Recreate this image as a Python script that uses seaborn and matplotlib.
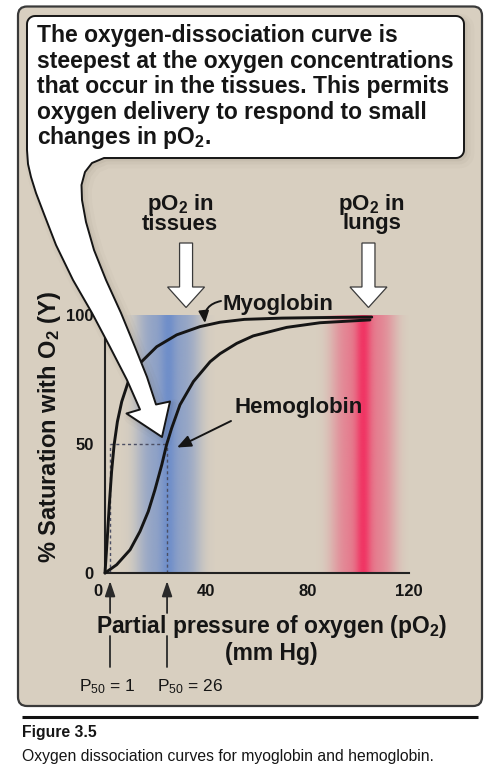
import numpy as np
import pandas as pd
import matplotlib
matplotlib.use("Agg")
import matplotlib.pyplot as plt
import seaborn as sns
from matplotlib.patches import FancyBboxPatch, Polygon

# ---------------- data ----------------
myo_po2 = [0, 0.9, 1.7, 2.6, 3.6, 4.9, 6.6, 9.2, 13.8, 20.4, 28.3, 37.5, 45.4, 55, 70, 85, 105.3]
myo_sat = [0, 13.5, 26.4, 39.3, 49.7, 58.7, 66.4, 74.2, 81.3, 87.7, 92.3, 95.5, 97.2, 98.3, 98.8, 99.0, 99.2]

hb_po2 = [0, 4.6, 9.9, 13.8, 17.1, 19.7, 22.4, 24.3, 26.3, 29.6, 34.9, 41.5, 45.4, 52, 58.5, 71.7, 84.9, 104.6]
hb_sat = [0, 3.2, 9.0, 16.1, 23.9, 32.2, 41.9, 49.7, 56.1, 65.2, 74.2, 81.9, 85.0, 89.0, 91.9, 95.2, 97.0, 98.1]

p50_marks = [2, 24.5]                 # where the P50 guides are drawn
p50_level = 50
p50_labels = ["P$_{50}$ = 1", "P$_{50}$ = 26"]

tissue_band = (25, 16)                # centre, half-width (pO2)
lung_band = (102, 16)
region_arrow_po2 = [32, 104]
region_labels = ["pO$_\\mathbf{2}$ in\ntissues", "pO$_\\mathbf{2}$ in\nlungs"]

x_ticks = list(range(0, 121, 10))
x_ticklabels = ["" if t not in (40, 80, 120) else str(t) for t in x_ticks]
y_ticks = list(range(0, 101, 10))
y_ticklabels = [str(t) if t in (0, 50, 100) else "" for t in y_ticks]

callout_lines = [
    "The oxygen-dissociation curve is",
    "steepest at the oxygen concentrations",
    "that occur in the tissues. This permits",
    "oxygen delivery to respond to small",
    "changes in pO$_\\mathbf{2}$.",
]

# ---------------- style ----------------
sns.set_theme(style="white")
plt.rcParams["font.family"] = ["Liberation Sans", "DejaVu Sans"]
plt.rcParams["mathtext.fontset"] = "custom"
plt.rcParams["mathtext.rm"] = "Liberation Sans"
plt.rcParams["mathtext.bf"] = "Liberation Sans:bold"
plt.rcParams["mathtext.it"] = "Liberation Sans:italic"
plt.rcParams["mathtext.default"] = "regular"

BEIGE = "#d8cfc0"
INK = "#151515"
W, H = 496, 773

fig = plt.figure(figsize=(W / 100, H / 100), dpi=100, facecolor="white")

bg = fig.add_axes([0, 0, 1, 1])
bg.set_xlim(0, W); bg.set_ylim(H, 0); bg.axis("off"); bg.set_zorder(0)

ax = fig.add_axes([105 / W, (H - 573) / H, 304 / W, 258 / H])
ax.set_zorder(1)
ax.patch.set_alpha(0)

ov = fig.add_axes([0, 0, 1, 1])
ov.set_xlim(0, W); ov.set_ylim(H, 0); ov.axis("off"); ov.set_zorder(2)

# outer beige frame
bg.add_patch(FancyBboxPatch((18, 6.5), 464, 699.5, boxstyle="round,pad=0,rounding_size=9",
                            fc=BEIGE, ec="#3a3a3a", lw=1.6))

# ---------------- main chart ----------------
xs = np.linspace(0, 120, 1201)

def band_alpha(c, hw, peak_w, a_plateau, a_peak):
    plate = a_plateau * np.exp(-np.abs((xs - c) / (hw * 0.78)) ** 4)
    peak = a_peak * np.exp(-((xs - c) / peak_w) ** 2)
    return np.clip(plate + peak, 0, 1)

ab = band_alpha(tissue_band[0], tissue_band[1], 3.0, 0.52, 0.22)
ar = band_alpha(lung_band[0], lung_band[1], 3.0, 0.50, 0.45)
blue = np.array([75, 120, 205]) / 255
red = np.array([242, 45, 95]) / 255
img = np.zeros((2, xs.size, 4))
use_blue = ab >= ar
img[..., :3] = np.where(use_blue[:, None], blue, red)[None, :, :]
img[..., 3] = np.where(use_blue, ab, ar)[None, :]
ax.imshow(img, extent=(0, 120, 0, 100), origin="lower", aspect="auto",
          interpolation="bilinear", zorder=0)

df = pd.concat([
    pd.DataFrame({"po2": myo_po2, "sat": myo_sat, "protein": "Myoglobin"}),
    pd.DataFrame({"po2": hb_po2, "sat": hb_sat, "protein": "Hemoglobin"}),
])
sns.lineplot(data=df, x="po2", y="sat", hue="protein",
             palette={"Myoglobin": INK, "Hemoglobin": INK},
             estimator=None, sort=False, legend=False, lw=2.1, ax=ax, zorder=3)
for ln in ax.lines:
    ln.set_clip_on(False)
    ln.set_solid_capstyle("round")
    ln.set_solid_joinstyle("round")

guide_kw = dict(color="#4b4e63", lw=1.0, linestyle=(0, (2.2, 2.0)), zorder=2)
ax.plot([p50_marks[0], p50_marks[1]], [p50_level, p50_level], **guide_kw)
for m in p50_marks:
    ax.plot([m, m], [0, p50_level], **guide_kw)

ax.set_xlim(0, 120)
ax.set_ylim(0, 100)
ax.set_xticks(x_ticks)
ax.set_xticklabels(["" if t == 0 else l for t, l in zip(x_ticks, x_ticklabels)])
ax.set_yticks(y_ticks)
ax.set_yticklabels(y_ticklabels)
ax.tick_params(direction="in", length=4.5, width=1.1, colors="#222222",
               labelsize=12, labelcolor=INK)
ax.tick_params(axis="x", pad=8)
ax.tick_params(axis="y", pad=8)
for lbl in ax.get_xticklabels() + ax.get_yticklabels():
    lbl.set_fontweight("bold")
ax.set_xlabel(""); ax.set_ylabel("")
for s in ("top", "right"):
    ax.spines[s].set_visible(False)
for s in ("left", "bottom"):
    ax.spines[s].set_color("#222222")
    ax.spines[s].set_linewidth(1.5)

def to_px(x, y):
    d = ax.transData.transform((x, y))
    return d[0], H - d[1]

x0px, _ = to_px(0, 0)
ov.text(x0px - 7, 591.5, "0", ha="center", va="center", fontsize=12,
        fontweight="bold", color=INK)

# ---------------- callout with its arrow tail ----------------
L, R, T, B, r = 27, 464, 16, 158, 8

def arc(cx, cy, a0, a1, n=8):
    t = np.radians(np.linspace(a0, a1, n))
    return list(zip(cx + r * np.cos(t), cy + r * np.sin(t)))

verts = []
verts += arc(L + r, T + r, 180, 270)
verts += arc(R - r, T + r, 270, 360)
verts += arc(R - r, B - r, 0, 90)
verts += [(104, B), (92, 163), (85, 172), (81.5, 185), (82, 200), (86, 222),
          (94, 250), (106, 280), (121, 313), (135, 347), (147, 377), (156, 404.5),
          (170, 401.5), (162, 437), (126.5, 413.5), (140, 409.5),
          (127, 380), (110, 347), (92, 313), (73, 280), (56, 245), (44, 214),
          (36, 193), (31, 177), (28, 164), (L, 150)]
verts = np.array(verts)

for off, lw_, a in [((4, 4), 9, 0.025), ((3, 3), 5, 0.035), ((2, 2), 2, 0.05)]:
    sh = Polygon(verts + np.array(off), closed=True, fc=(0, 0, 0, 0), ec=(0.25, 0.2, 0.1, a),
                 lw=lw_, joinstyle="round")
    ov.add_patch(sh)
ov.add_patch(Polygon(verts, closed=True, fc="white", ec=INK, lw=1.4, joinstyle="round"))

baselines = [41.7, 68.3, 93.5, 118.5, 144]
for txt, yb in zip(callout_lines, baselines):
    ov.text(37, yb, txt, ha="left", va="baseline", fontsize=16.5,
            fontweight="bold", color=INK)

# ---------------- region labels & hollow arrows ----------------
label_offsets = [-6, 3]
for po2, lab, dx in zip(region_arrow_po2, region_labels, label_offsets):
    cx, _ = to_px(po2, 100)
    ov.add_patch(Polygon([(cx - 6.5, 243), (cx + 6.5, 243), (cx + 6.5, 287),
                          (cx + 18.5, 287), (cx, 307.5), (cx - 18.5, 287),
                          (cx - 6.5, 287)], closed=True, fc="white",
                         ec="#3a3a3a", lw=0.9))
    ov.text(cx + dx, 234.5, lab, ha="center", va="bottom", fontsize=16,
            fontweight="bold", color=INK, linespacing=0.78, multialignment="center")

# curve labels
ov.text(222, 310, "Myoglobin", ha="left", va="baseline", fontsize=16,
        fontweight="bold", color=INK)
ov.annotate("", xy=(205, 323), xytext=(221, 301),
            arrowprops=dict(arrowstyle="-|>,head_length=0.5,head_width=0.22",
                            mutation_scale=14, lw=1.4, color=INK,
                            connectionstyle="arc3,rad=0.45", shrinkA=0, shrinkB=0))
ov.text(235, 413.3, "Hemoglobin", ha="left", va="baseline", fontsize=16,
        fontweight="bold", color=INK)
ov.annotate("", xy=(177, 447.5), xytext=(231, 421),
            arrowprops=dict(arrowstyle="-|>,head_length=0.6,head_width=0.25",
                            mutation_scale=14, lw=1.4, color=INK,
                            shrinkA=0, shrinkB=0))

# axis titles
ov.text(50, 427, "% Saturation with O$_\\mathbf{2}$ (Y)", rotation=90, ha="center",
        va="center", fontsize=17, fontweight="bold", color=INK)
ov.text(271.7, 633.3, "Partial pressure of oxygen (pO$_\\mathbf{2}$)", ha="center",
        va="baseline", fontsize=16.5, fontweight="bold", color=INK)
ov.text(271.7, 660, "(mm Hg)", ha="center", va="baseline", fontsize=16.5,
        fontweight="bold", color=INK)

# P50 pointers
for m in p50_marks:
    px, _ = to_px(m, 0)
    ov.annotate("", xy=(px, 581), xytext=(px, 613),
                arrowprops=dict(arrowstyle="-|>,head_length=0.65,head_width=0.22",
                                mutation_scale=14, lw=1.3, color="#2a2a2a",
                                shrinkA=0, shrinkB=0))
    ov.plot([px, px], [636, 667], color="#2a2a2a", lw=1.3)

ov.text(79, 691.7, p50_labels[0], ha="left", va="baseline", fontsize=12.5, color=INK)
ov.text(157, 691.7, p50_labels[1], ha="left", va="baseline", fontsize=12.5, color=INK)

# ---------------- caption ----------------
bg.plot([22, 478], [716.7, 716.7], color="#111111", lw=2.2, solid_capstyle="butt")
bg.text(22, 737, "Figure 3.5", ha="left", va="baseline", fontsize=11.3,
        fontweight="bold", color=INK)
bg.text(22, 760.7, "Oxygen dissociation curves for myoglobin and hemoglobin.",
        ha="left", va="baseline", fontsize=11.3, color=INK)

fig.savefig("out.png", dpi=100, facecolor="white")
